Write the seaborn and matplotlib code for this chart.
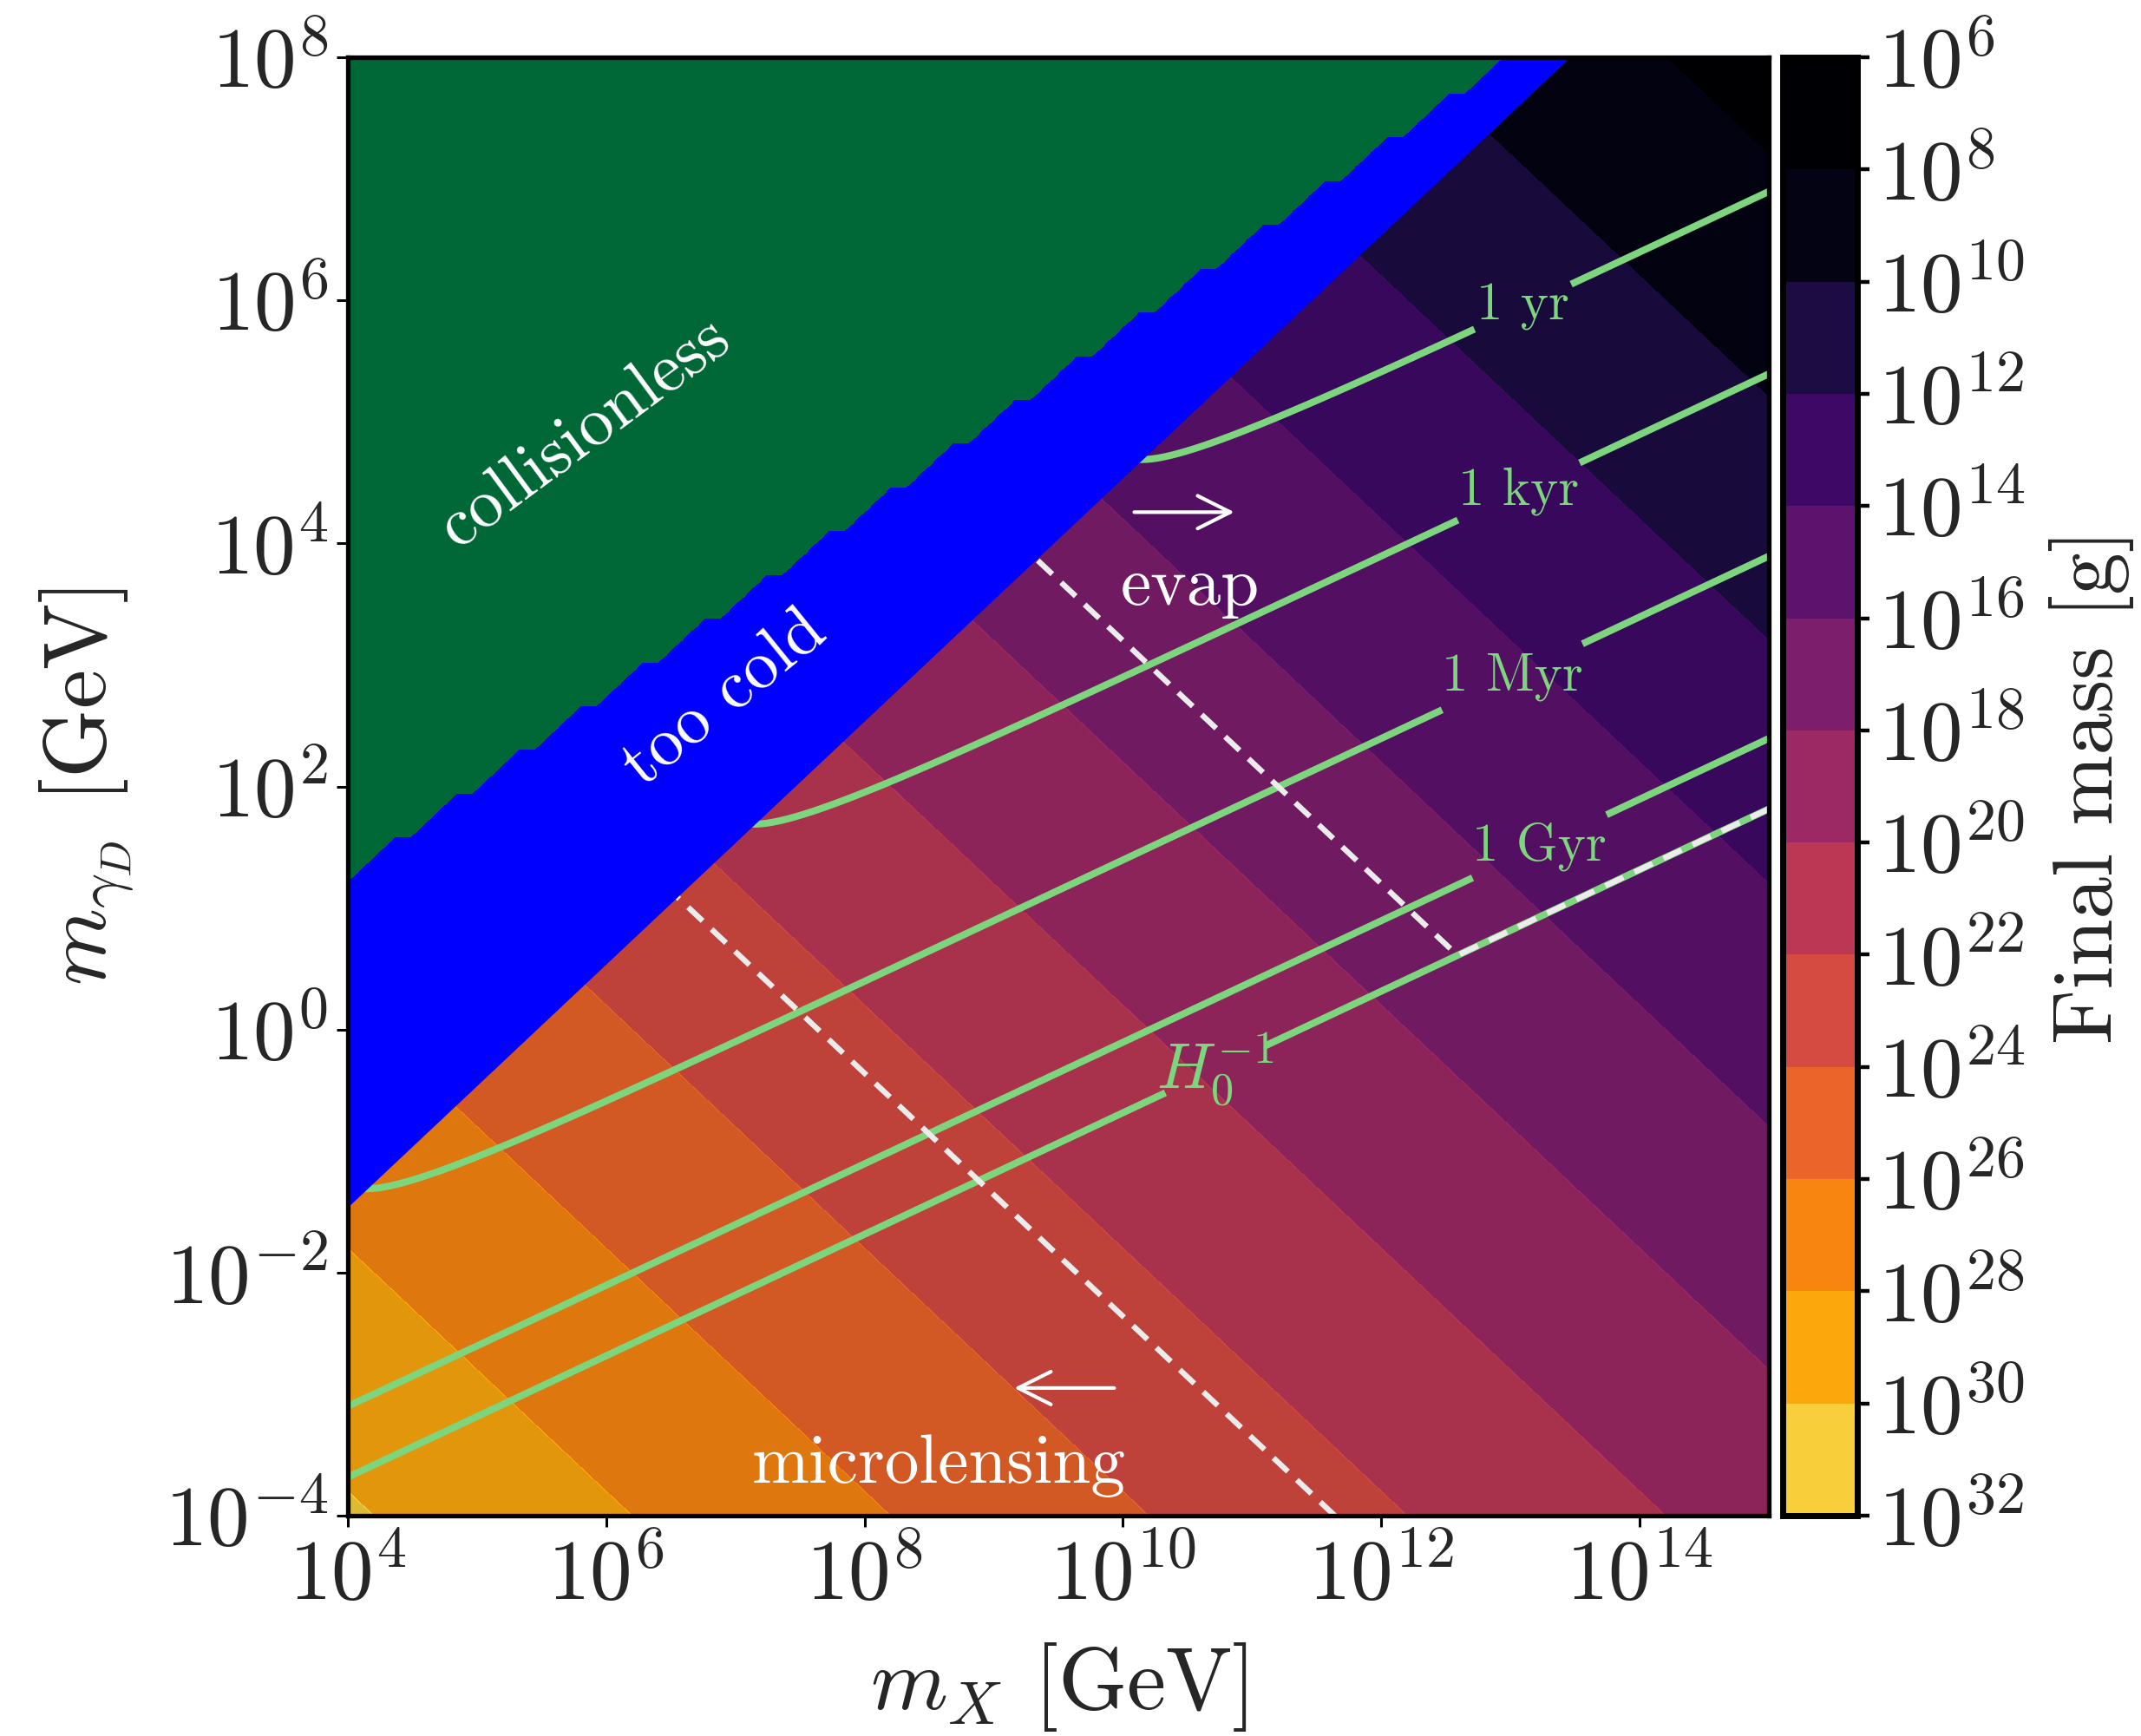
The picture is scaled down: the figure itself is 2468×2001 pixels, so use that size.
import numpy as np
import matplotlib
matplotlib.use("Agg")
import matplotlib.pyplot as plt
import matplotlib.ticker as mticker
from matplotlib.colors import Normalize
import seaborn as sns

# ---------------- values ----------------
x_ticks_log = [4, 6, 8, 10, 12, 14]          # log10 m_X [GeV]
y_ticks_log = [-4, -2, 0, 2, 4, 6, 8]        # log10 m_gammaD [GeV]
x_limits_log = [4, 15]
y_limits_log = [-4, 8]

mass_levels_log = np.arange(6, 34, 2)        # colour-bar levels, log10 M_final [g]
mass_log_at_unit = 30.2                      # log10 M_final where m_X*m_gD = 1 GeV^2
mass_slope_mx = -1.0
mass_slope_mg = -1.0
mass_norm_range = [8, 34]

lifetime_levels_log_yr = [0.0, 3.0, 6.0, 9.0, 10.16]
lifetime_labels = ["1 yr", "1 kyr", "1 Myr", "1 Gyr", r"$H_0^{-1}$"]
lifetime_log_at_unit = -1.21
lifetime_slope_mx = 1.0
lifetime_slope_mg = -2.0
lifetime_edge_boost = 0.44
label_pos_log_mx = [13.09, 13.05, 13.01, 13.22, 10.72]
label_pos_log_mg = [5.96, 4.46, 2.91, 1.52, -0.34]

too_cold_offset = -5.46          # lower edge of "too cold": log m_gD = log m_X + offset
collisionless_slope = 0.75       # edge of "collisionless": log m_gD = slope*log m_X + offset
collisionless_offset = -1.722
collisionless_grid_step = 0.12   # coarse grid of the original scan (decades)

evap_mass_log = 17.0
microlensing_mass_log = 22.56

# ---------------- style ----------------
sns.set_theme(style="ticks")
plt.rcParams.update({
    "font.family": ["cmr10", "DejaVu Serif"],
    "mathtext.fontset": "cm",
    "axes.unicode_minus": False,
    "axes.formatter.use_mathtext": True,
    "lines.dashed_pattern": [3.6, 2.2],
})

GREEN_LINE = "#7dd67e"
DASH = "#ececec"
cmap = sns.color_palette("inferno", as_cmap=True)

W, H = 2468, 2001
fig = plt.figure(figsize=(W / 200, H / 200), dpi=200)
ax_l, ax_r, ax_t, ax_b = 401, 2039, 66, 1747
ax = fig.add_axes([ax_l / W, 1 - ax_b / H, (ax_r - ax_l) / W, (ax_b - ax_t) / H])
cax = fig.add_axes([2055 / W, 1 - ax_b / H, 86 / W, (ax_b - ax_t) / H])

ax.set_xscale("log")
ax.set_yscale("log")
ax.set_xlim(10.0 ** x_limits_log[0], 10.0 ** x_limits_log[1])
ax.set_ylim(10.0 ** y_limits_log[0], 10.0 ** y_limits_log[1])
ax.set_facecolor("black")

# fine grid for the smooth fields
lx = np.linspace(x_limits_log[0], x_limits_log[1], 700)
ly = np.linspace(y_limits_log[0], y_limits_log[1], 700)
LX, LY = np.meshgrid(lx, ly)
MX, MG = 10.0 ** LX, 10.0 ** LY

logM = mass_log_at_unit + mass_slope_mx * LX + mass_slope_mg * LY
depth = np.maximum(LX + too_cold_offset - LY, -2.0)
logtau = (lifetime_log_at_unit + lifetime_slope_mx * LX + lifetime_slope_mg * LY
          + lifetime_edge_boost * np.exp(-depth / lifetime_edge_boost))

# final mass bands
cs = ax.contourf(MX, MG, logM, levels=mass_levels_log, cmap=cmap,
                 norm=Normalize(*mass_norm_range), alpha=0.9, zorder=1)

# lifetime contours
tc = ax.contour(MX, MG, logtau, levels=lifetime_levels_log_yr, colors=[GREEN_LINE],
                linewidths=2.9, zorder=2)


def fmt(v):
    i = int(np.argmin(np.abs(np.array(lifetime_levels_log_yr) - v)))
    return lifetime_labels[i]


manual = list(zip(10.0 ** np.array(label_pos_log_mx), 10.0 ** np.array(label_pos_log_mg)))
labels = ax.clabel(tc, fmt=fmt, fontsize=22, inline=True, inline_spacing=8, manual=manual)
for t in labels:
    t.set_rotation(0)
    if "H_0" in t.get_text():
        t.set_fontsize(27)

# constraint boundaries (dashed)
F = np.maximum(logM - evap_mass_log, logtau - lifetime_levels_log_yr[-1])
ax.contour(MX, MG, F, levels=[0.0], colors=[DASH], linewidths=2.3,
           linestyles="--", zorder=2.5)
ax.contour(MX, MG, logM, levels=[microlensing_mass_log], colors=[DASH], linewidths=2.3,
           linestyles="--", zorder=2.5)

# too cold region
ex = np.linspace(x_limits_log[0], x_limits_log[1], 300)
ax.fill_between(10.0 ** ex, 10.0 ** (ex + too_cold_offset), 10.0 ** y_limits_log[1],
                color="#0000ff", lw=0, zorder=3)

# collisionless region on the coarse scan grid
gx = x_limits_log[0] + collisionless_grid_step * np.arange(93)
gy = y_limits_log[0] + collisionless_grid_step * np.arange(101)
GX, GY = np.meshgrid(gx, gy)
coll = (GY > collisionless_slope * GX + collisionless_offset).astype(float)
ax.contourf(10.0 ** GX, 10.0 ** GY, coll, levels=[0.5, 1.5], colors=["#006837"], zorder=4)

# annotations
tkw = dict(color="white", fontsize=28.5, zorder=6)
ax.text(10 ** 5.835, 10 ** 4.907, "collisionless", rotation=36.5, rotation_mode="anchor",
        ha="center", va="center", **tkw)
ax.text(10 ** 6.918, 10 ** 2.721, "too cold", rotation=39, rotation_mode="anchor",
        ha="center", va="center", **tkw)
ax.text(10 ** 10.52, 10 ** 3.493, "evap", ha="center", va="baseline", **tkw)
ax.text(10 ** 8.575, 10 ** -3.729, "microlensing", ha="center", va="baseline", **tkw)
akw = dict(arrowstyle="->", color="white", lw=1.5, mutation_scale=34)
ax.annotate("", xy=(10 ** 10.9, 10 ** 4.257), xytext=(10 ** 10.05, 10 ** 4.257),
            arrowprops=akw, zorder=6)
ax.annotate("", xy=(10 ** 9.12, 10 ** -2.95), xytext=(10 ** 9.97, 10 ** -2.95),
            arrowprops=akw, zorder=6)

# axes cosmetics
pow_fmt = mticker.FuncFormatter(lambda v, p: r"$10^{%d}$" % int(round(np.log10(v))))
ax.xaxis.set_major_locator(mticker.FixedLocator(10.0 ** np.array(x_ticks_log)))
ax.yaxis.set_major_locator(mticker.FixedLocator(10.0 ** np.array(y_ticks_log)))
ax.xaxis.set_minor_locator(mticker.NullLocator())
ax.yaxis.set_minor_locator(mticker.NullLocator())
ax.xaxis.set_major_formatter(pow_fmt)
ax.yaxis.set_major_formatter(pow_fmt)
ax.tick_params(labelsize=35, length=4.7, width=1.1, direction="out", color="black")
ax.tick_params(axis="x", pad=5)
for s in ax.spines.values():
    s.set_linewidth(1.9)
    s.set_color("black")
    s.set_zorder(10)
ax.set_xlabel(r"$m_X$ [GeV]", fontsize=36.5, labelpad=10)
ax.set_ylabel(r"$m_{\gamma_D}$ [GeV]", fontsize=36.5, labelpad=12)

# colour bar
cb = fig.colorbar(cs, cax=cax, ticks=mass_levels_log)
cb.solids.set_alpha(1.0)
cb.ax.invert_yaxis()
cb.ax.yaxis.set_major_formatter(mticker.FuncFormatter(lambda v, p: r"$10^{%d}$" % int(round(v))))
cb.ax.yaxis.set_minor_locator(mticker.NullLocator())
cb.ax.tick_params(labelsize=35, length=5, width=1.6, direction="out", color="black")
cb.outline.set_linewidth(2.5)
cb.outline.set_edgecolor("black")
cb.set_label("Final mass [g]", fontsize=35, labelpad=10)

fig.savefig("out.png", dpi=200, facecolor="white")
